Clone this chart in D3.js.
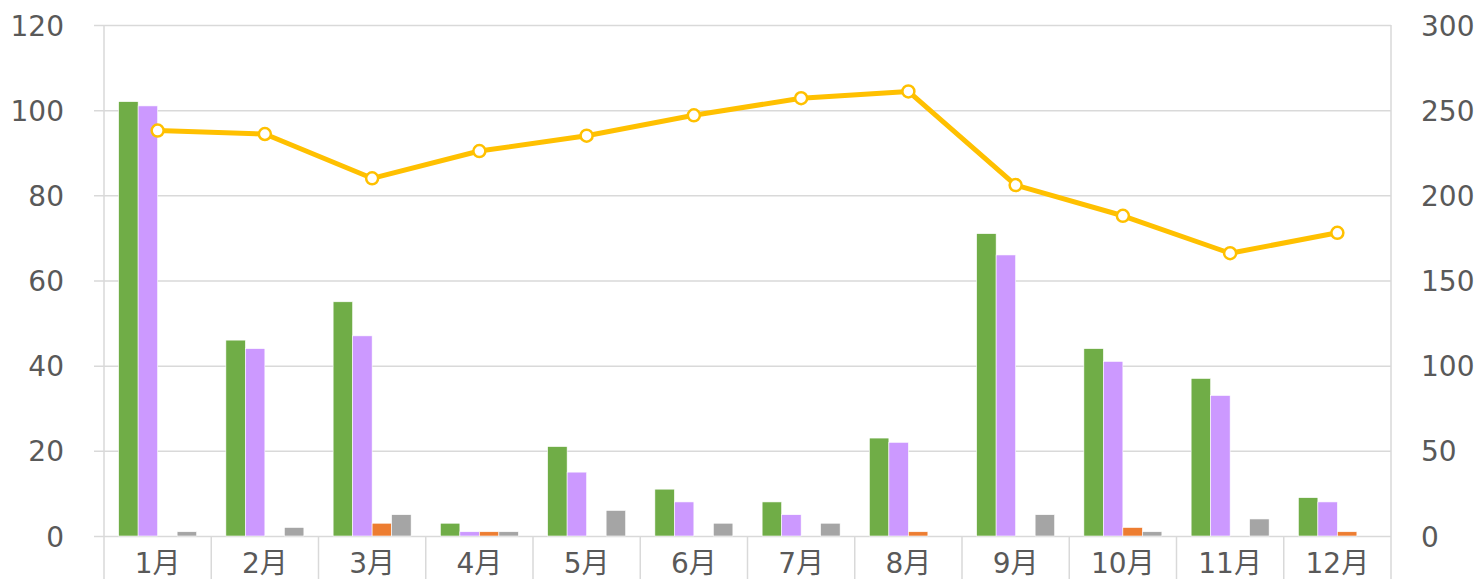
<!DOCTYPE html>
<html>
<head>
<meta charset="utf-8">
<script src="https://cdn.jsdelivr.net/npm/d3@7"></script>
<style>
  body { margin: 0; background: #fff; overflow: hidden; }
  svg { display: block; }
</style>
</head>
<body>
<svg></svg>
<script>
let months = ['1月','2月','3月','4月','5月','6月','7月','8月','9月','10月','11月','12月']
let greenVals  = [102, 46, 55, 3, 21, 11, 8, 23, 71, 44, 37, 9]
let purpleVals = [101, 44, 47, 1, 15, 8, 5, 22, 66, 41, 33, 8]
let orangeVals = [0, 0, 3, 1, 0, 0, 0, 1, 0, 2, 0, 1]
let grayVals   = [1, 2, 5, 1, 6, 3, 3, 0, 5, 1, 4, 0]
let lineVals   = [238, 236, 210, 226, 235, 247, 257, 261, 206, 188, 166, 178]
let leftTicks  = [0, 20, 40, 60, 80, 100, 120]
let rightTicks = [0, 50, 100, 150, 200, 250, 300]

let barSeries = [
    {name: 'green', values: greenVals, color: '#70AD47'},
    {name: 'purple', values: purpleVals, color: '#CC99FF'},
    {name: 'orange', values: orangeVals, color: '#ED7D31'},
    {name: 'gray', values: grayVals, color: '#A5A5A5'}
]

let width = 1477
let height = 579
let plotLeft = 104
let plotRight = 1391
let plotTop = 25
let plotBottom = 536
let gridColor = '#D9D9D9'
let textColor = '#595959'
let fontFamily = '"DejaVu Sans", "Noto Sans CJK JP", sans-serif'
let fontSize = 28

let svg = d3.select('svg')
svg.attr('width', width).attr('height', height)
    .attr('font-family', fontFamily)

let xScale = d3.scaleBand()
                .domain(months)
                .range([plotLeft, plotRight])
                .paddingInner(0)
                .paddingOuter(0)

// gap width 150% like Excel
let innerScale = d3.scaleBand()
                .domain(barSeries.map(s => s.name))
                .range([0, xScale.bandwidth()])
                .paddingOuter(0.75)
                .paddingInner(0)

let yLeft = d3.scaleLinear().domain([0, 120]).range([plotBottom, plotTop])
let yRight = d3.scaleLinear().domain([0, 300]).range([plotBottom, plotTop])

// horizontal gridlines + left labels
let leftAxis = d3.axisLeft(yLeft)
                .tickValues(leftTicks)
                .tickSize(0)
                .tickPadding(40)
let gLeft = svg.append('g')
    .attr('transform', 'translate(' + plotLeft + ',0)')
    .call(leftAxis)
    .attr('font-family', fontFamily)
    .attr('font-size', fontSize)
gLeft.select('.domain').remove()
gLeft.selectAll('.tick line')
    .attr('stroke', gridColor)
    .attr('stroke-width', 1.5)
    .attr('x1', -10)
    .attr('x2', plotRight - plotLeft)
gLeft.selectAll('text')
    .attr('fill', textColor)
    .attr('dy', '0.36em')

// right axis labels
let rightAxis = d3.axisRight(yRight)
                .tickValues(rightTicks)
                .tickSize(0)
                .tickPadding(30)
let gRight = svg.append('g')
    .attr('transform', 'translate(' + plotRight + ',0)')
    .call(rightAxis)
    .attr('font-family', fontFamily)
    .attr('font-size', fontSize)
gRight.select('.domain').remove()
gRight.selectAll('text')
    .attr('fill', textColor)
    .attr('dy', '0.36em')

// vertical plot edges and category separators
let boundaries = months.map(m => xScale(m)).concat([plotRight])
svg.append('g').selectAll('line')
    .data(boundaries)
    .enter()
    .append('line')
    .attr('x1', d => d).attr('x2', d => d)
    .attr('y1', (d, i) => (i === 0 || i === boundaries.length - 1) ? plotTop : plotBottom)
    .attr('y2', height)
    .attr('stroke', gridColor)
    .attr('stroke-width', 1.5)

// x labels
svg.append('g').selectAll('text')
    .data(months)
    .enter()
    .append('text')
    .attr('x', d => xScale(d) + xScale.bandwidth() / 2)
    .attr('y', 573)
    .attr('text-anchor', 'middle')
    .attr('fill', textColor)
    .attr('font-size', fontSize)
    .text(d => d)

// bars
barSeries.forEach(s => {
    svg.append('g').selectAll('rect')
        .data(s.values)
        .enter()
        .append('rect')
        .attr('x', (d, i) => xScale(months[i]) + innerScale(s.name))
        .attr('width', innerScale.bandwidth())
        .attr('y', d => yLeft(d))
        .attr('height', d => plotBottom - yLeft(d))
        .attr('fill', s.color)
        .attr('stroke', d => d > 0 ? '#fff' : 'none')
        .attr('stroke-width', 0.6)
})

// line on right axis
let line = d3.line()
            .x((d, i) => xScale(months[i]) + xScale.bandwidth() / 2)
            .y(d => yRight(d))

svg.append('path')
    .datum(lineVals)
    .attr('d', line)
    .attr('fill', 'none')
    .attr('stroke', '#FFC000')
    .attr('stroke-width', 5)
    .attr('stroke-linejoin', 'round')

svg.append('g').selectAll('circle')
    .data(lineVals)
    .enter()
    .append('circle')
    .attr('cx', (d, i) => xScale(months[i]) + xScale.bandwidth() / 2)
    .attr('cy', d => yRight(d))
    .attr('r', 6)
    .attr('fill', '#fff')
    .attr('stroke', '#FFC000')
    .attr('stroke-width', 2.5)
</script>
</body>
</html>
